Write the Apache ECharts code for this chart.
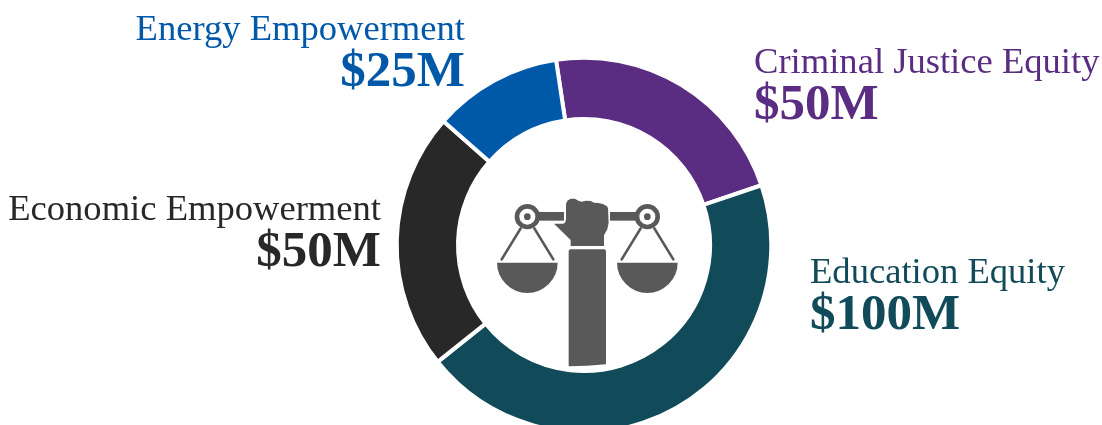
<!DOCTYPE html>
<html>
<head>
<meta charset="utf-8">
<style>html,body{margin:0;padding:0;background:#fff}#chart{width:1102px;height:425px}</style>
<script src="https://cdn.jsdelivr.net/npm/echarts@6/dist/echarts.min.js"></script>
</head>
<body>
<div id="chart"></div>
<script>
// Funding commitments by program area, in millions of dollars, clockwise from the top
const programs = ['Criminal Justice Equity', 'Education Equity', 'Economic Empowerment', 'Energy Empowerment'];
const fundingMillions = [50, 100, 50, 25];
const programColors = ['#5a2d82', '#114a59', '#282828', '#0058a9'];
const labelAnchors = [
  { x: 754, y: 41, align: 'left' },
  { x: 810, y: 251, align: 'left' },
  { x: 381, y: 188, align: 'right' },
  { x: 465, y: 8, align: 'right' }
];

const FONT = '"Liberation Serif", serif';
const ICON = '#595959';

// Scales-of-justice emblem, drawn on a 3x canvas and scaled down into the hole
function pan(cx) {
  return { type: 'sector', shape: { cx, cy: 248, r0: 0, r: 91, startAngle: 0, endAngle: Math.PI, clockwise: true }, style: { fill: ICON } };
}
function strap(x1, x2) {
  return { type: 'line', shape: { x1, y1: 145, x2, y2: 238 }, style: { stroke: ICON, lineWidth: 8, lineCap: 'round' } };
}
function pivot(cx) {
  return [
    { type: 'circle', shape: { cx, cy: 110, r: 31 }, style: { fill: '#fff', stroke: ICON, lineWidth: 14 } },
    { type: 'circle', shape: { cx, cy: 110, r: 10 }, style: { fill: ICON } }
  ];
}
const fistOutline = [
  [262, 62], [272, 56], [285, 56], [295, 62], [305, 65], [318, 62], [332, 63], [342, 68], [355, 69],
  [368, 72], [380, 78], [384, 84], [386, 128], [382, 148], [372, 166], [372, 198], [272, 198], [272, 180],
  [222, 131], [250, 131], [256, 127], [258, 118], [258, 72]
];
const armOutline = [
  [270, 208], [374, 208], [378, 212], [378, 553], [322, 557], [266, 559], [266, 212]
];
const emblem = [
  strap(122, 65), strap(163, 220), strap(482, 425), strap(523, 580),
  pan(142), pan(502),
  { type: 'rect', shape: { x: 172, y: 96, width: 80, height: 26 }, style: { fill: ICON } },
  { type: 'rect', shape: { x: 390, y: 96, width: 82, height: 26 }, style: { fill: ICON } },
  ...pivot(142), ...pivot(502),
  { type: 'polygon', shape: { points: fistOutline }, style: { fill: ICON } },
  { type: 'polygon', shape: { points: armOutline }, style: { fill: ICON } }
];

const chart = echarts.init(document.getElementById('chart'), null, { renderer: 'canvas' });
chart.setOption({
  animation: false,
  backgroundColor: '#fff',
  graphic: [{ type: 'group', x: 480, y: 180, scaleX: 1 / 3, scaleY: 1 / 3, children: emblem }],
  series: [{
    type: 'pie',
    center: [584, 245],
    radius: [126, 187.3],
    startAngle: 98.6,
    clockwise: true,
    avoidLabelOverlap: false,
    itemStyle: { borderColor: '#fff', borderWidth: 4 },
    label: {
      show: true,
      position: 'outside',
      formatter: p => `{name|${p.name}}\n{amount|$${p.value}M}`,
      rich: {
        name: { fontFamily: FONT, fontSize: 36.6, lineHeight: 44 },
        amount: { fontFamily: FONT, fontSize: 51, fontWeight: 'bold', lineHeight: 42 }
      }
    },
    labelLine: { show: false },
    labelLayout: p => ({ ...labelAnchors[p.dataIndex], verticalAlign: 'top' }),
    data: programs.map((name, i) => {
      const color = programColors[i];
      const align = labelAnchors[i].align;
      return {
        name,
        value: fundingMillions[i],
        itemStyle: { color },
        label: {
          align,
          rich: {
            name: { color, align },
            amount: { color, align }
          }
        }
      };
    })
  }]
});
</script>
</body>
</html>
